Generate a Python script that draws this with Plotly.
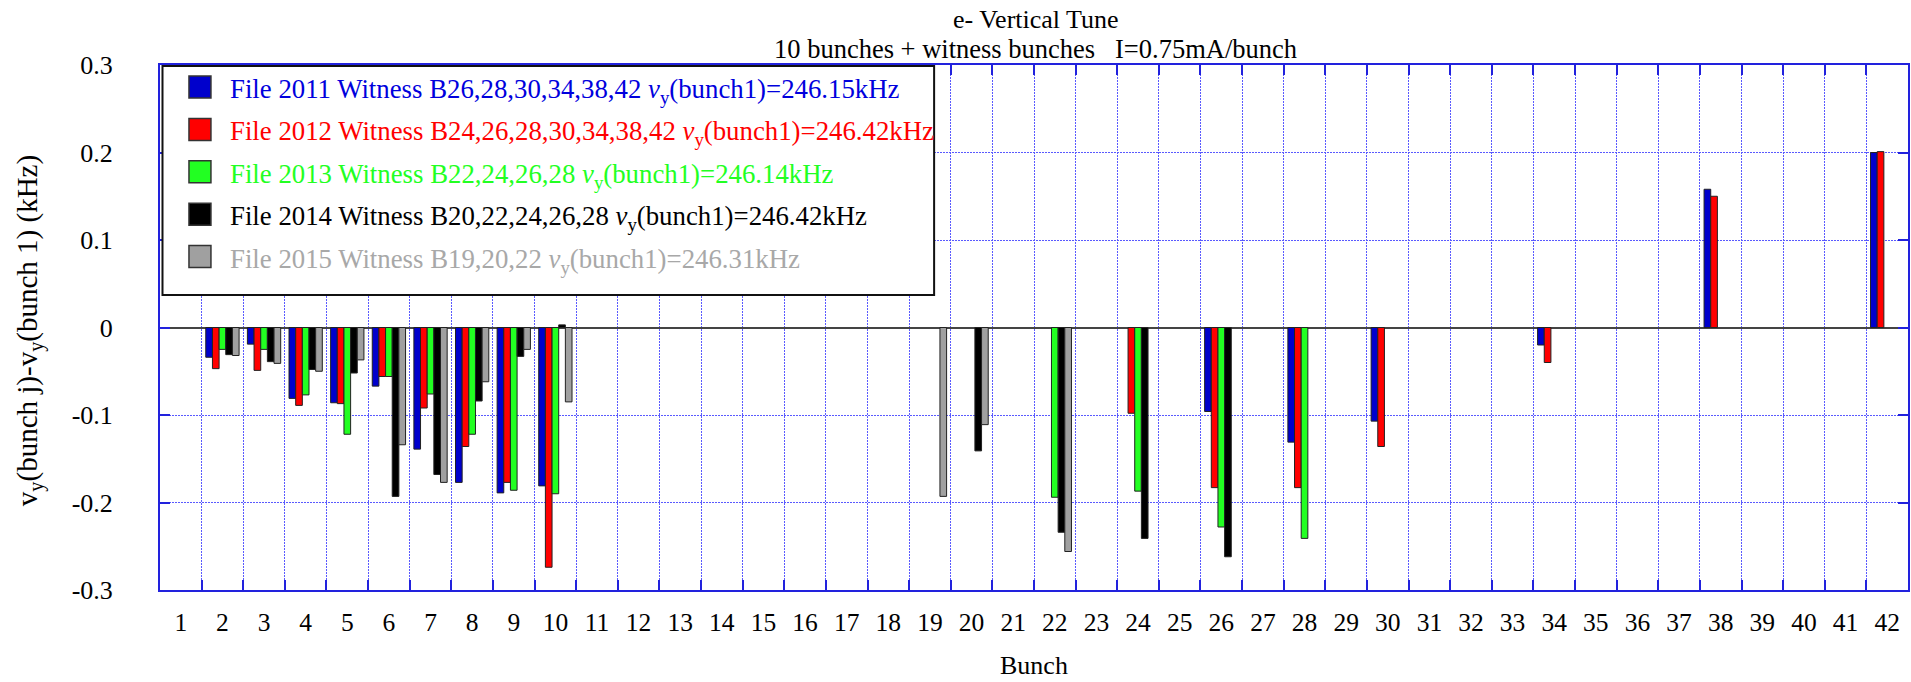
import plotly.graph_objects as go

# Bunch numbers along the x axis
bunches = list(range(1, 43))
tick_vals_y = [-0.3, -0.2, -0.1, 0.0, 0.1, 0.2, 0.3]
tick_text_y = ["-0.3", "-0.2", "-0.1", "0", "0.1", "0.2", "0.3"]

# Tune shift of bunch j relative to bunch 1 (kHz), one pair of lists per file
f2011_bunch = [2, 3, 4, 5, 6, 7, 8, 9, 10, 26, 28, 30, 34, 38, 42]
f2011_dnu = [-0.034, -0.019, -0.081, -0.086, -0.067, -0.139, -0.177, -0.189, -0.181,
             -0.096, -0.131, -0.107, -0.020, 0.158, 0.200]

f2012_bunch = [2, 3, 4, 5, 6, 7, 8, 9, 10, 24, 26, 28, 30, 34, 38, 42]
f2012_dnu = [-0.047, -0.049, -0.089, -0.087, -0.056, -0.092, -0.136, -0.177, -0.274,
             -0.098, -0.183, -0.183, -0.136, -0.040, 0.150, 0.201]

f2013_bunch = [2, 3, 4, 5, 6, 7, 8, 9, 10, 22, 24, 26, 28]
f2013_dnu = [-0.025, -0.025, -0.077, -0.122, -0.056, -0.076, -0.122, -0.186, -0.190,
             -0.194, -0.187, -0.228, -0.241]

f2014_bunch = [2, 3, 4, 5, 6, 7, 8, 9, 10, 20, 22, 24, 26]
f2014_dnu = [-0.031, -0.039, -0.048, -0.052, -0.193, -0.168, -0.084, -0.033, 0.003,
             -0.141, -0.234, -0.241, -0.262]

f2015_bunch = [2, 3, 4, 5, 6, 7, 8, 9, 10, 19, 20, 22]
f2015_dnu = [-0.032, -0.041, -0.050, -0.037, -0.134, -0.177, -0.062, -0.025, -0.085,
             -0.193, -0.111, -0.256]

series_names = [
    "File 2011 Witness B26,28,30,34,38,42 <i>ν</i><sub>y</sub>(bunch1)=246.15kHz",
    "File 2012 Witness B24,26,28,30,34,38,42 <i>ν</i><sub>y</sub>(bunch1)=246.42kHz",
    "File 2013 Witness B22,24,26,28 <i>ν</i><sub>y</sub>(bunch1)=246.14kHz",
    "File 2014 Witness B20,22,24,26,28 <i>ν</i><sub>y</sub>(bunch1)=246.42kHz",
    "File 2015 Witness B19,20,22 <i>ν</i><sub>y</sub>(bunch1)=246.31kHz",
]
bar_colors = ["#0000cc", "#ff0000", "#22ff22", "#000000", "#a0a0a0"]
text_colors = ["#0000dd", "#ff0000", "#22ff22", "#000000", "#a8a8a8"]

series = [
    (f2011_bunch, f2011_dnu),
    (f2012_bunch, f2012_dnu),
    (f2013_bunch, f2013_dnu),
    (f2014_bunch, f2014_dnu),
    (f2015_bunch, f2015_dnu),
]

FONT = "Liberation Serif, Times New Roman, serif"
AXIS_BLUE = "#2222dd"
GRID_BLUE = "#5a5aff"

fig = go.Figure()
for (bx, by), name, col in zip(series, series_names, bar_colors):
    fig.add_trace(go.Bar(
        x=[str(b) for b in bx], y=by, name=name,
        marker=dict(color=col, line=dict(color="#222222", width=1)),
        showlegend=False,
    ))

# Hand-built legend box in the upper-left corner of the plot
W, H = 1911, 682
ml, mr, mt, mb = 160, 1, 65, 92
pw, ph = W - ml - mr, H - mt - mb


def px_x(p):
    return (p - ml) / pw


def px_y(p):
    return (H - mb - p) / ph


shapes = [dict(type="rect", xref="paper", yref="paper", layer="above",
               x0=px_x(162.5), x1=px_x(935), y0=px_y(295), y1=px_y(66),
               fillcolor="white", line=dict(color="#111111", width=2))]
annotations = []
for i, (name, fc, tc) in enumerate(zip(series_names, bar_colors, text_colors)):
    top = 76 + 42.4 * i
    shapes.append(dict(type="rect", xref="paper", yref="paper", layer="above",
                       x0=px_x(189), x1=px_x(211), y0=px_y(top + 22), y1=px_y(top),
                       fillcolor=fc, line=dict(color="#333333", width=1.5)))
    annotations.append(dict(text=name, xref="paper", yref="paper",
                            x=px_x(228), y=px_y(top + 15), xanchor="left", yanchor="middle",
                            showarrow=False, font=dict(family=FONT, size=26.8, color=tc)))

# Titles
annotations += [
    dict(text="e- Vertical Tune", xref="paper", yref="paper", x=px_x(1037), y=px_y(19.5),
         xanchor="center", yanchor="middle", showarrow=False,
         font=dict(family=FONT, size=26, color="black")),
    dict(text="10 bunches + witness bunches\u00a0\u00a0\u00a0I=0.75mA/bunch", xref="paper",
         yref="paper", x=px_x(1037), y=px_y(49), xanchor="center", yanchor="middle",
         showarrow=False, font=dict(family=FONT, size=26.5, color="black")),
    dict(text="Bunch", xref="paper", yref="paper", x=0.5, y=px_y(665),
         xanchor="center", yanchor="middle", showarrow=False,
         font=dict(family=FONT, size=26, color="black")),
    dict(text="v<sub>y</sub>(bunch j)-v<sub>y</sub>(bunch 1) (kHz)", xref="paper",
         yref="paper", x=px_x(30), y=px_y(331), xanchor="center", yanchor="middle",
         textangle=-90, showarrow=False, font=dict(family=FONT, size=29, color="black")),
]

fig.update_layout(
    width=W, height=H,
    margin=dict(l=ml, r=mr, t=mt, b=mb, pad=0),
    paper_bgcolor="white", plot_bgcolor="white",
    barmode="group", bargap=0.2, bargroupgap=0,
    font=dict(family=FONT, size=26, color="black"),
    shapes=shapes, annotations=annotations,
)
fig.update_xaxes(
    type="category", categoryorder="array", categoryarray=[str(b) for b in bunches],
    tickmode="array", tickvals=[str(b) for b in bunches], ticktext=[str(b) for b in bunches],
    tickson="boundaries", ticks="inside", ticklen=10, tickwidth=2, tickcolor=AXIS_BLUE,
    showline=True, linecolor=AXIS_BLUE, linewidth=2, mirror="ticks",
    showgrid=True, gridcolor=GRID_BLUE, gridwidth=1, griddash="2px,1px",
    tickfont=dict(family=FONT, size=25.5, color="black"), ticklabelstandoff=8,
    range=[-0.5, 41.5], fixedrange=True,
)
fig.update_yaxes(
    range=[-0.3, 0.3], tickmode="array", tickvals=tick_vals_y, ticktext=tick_text_y,
    ticks="inside", ticklen=10, tickwidth=2, tickcolor=AXIS_BLUE,
    showline=True, linecolor=AXIS_BLUE, linewidth=2, mirror="ticks",
    showgrid=True, gridcolor=GRID_BLUE, gridwidth=1, griddash="2px,1px",
    zeroline=True, zerolinecolor="#444444", zerolinewidth=2,
    tickfont=dict(family=FONT, size=26, color="black"), ticklabelstandoff=40,
    fixedrange=True,
)

fig.write_html("out.html")
